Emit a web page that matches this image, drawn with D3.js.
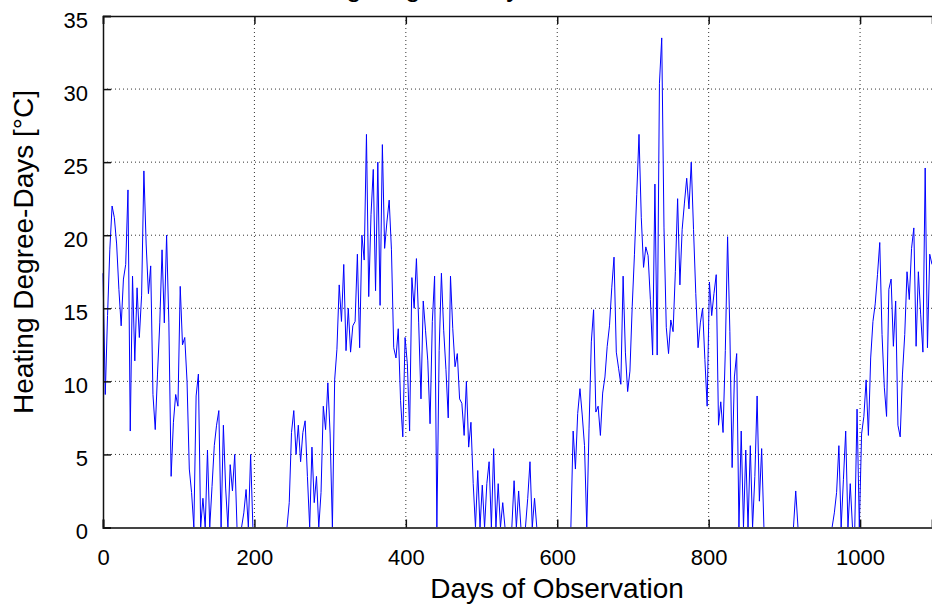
<!DOCTYPE html>
<html>
<head>
<meta charset="utf-8">
<script src="https://cdn.jsdelivr.net/npm/d3@7"></script>
<style>
  body { margin: 0; background: #fff; }
  text { font-family: "Liberation Sans", Arial, sans-serif; }
</style>
</head>
<body>
<div class="canvas"></div>
<script>
// sampling interval of the series (days)
const dayStep = 3;

// heating degree-days, one value every 3 days (day 0 .. 1095)
const hddValues = [
  17.4, 9.1, 14.5, 19.0, 22.0, 21.2, 19.4, 16.3, 13.8, 17.0,
  18.0, 23.1, 6.6, 17.2, 11.4, 16.4, 13.0, 15.9, 24.4, 19.4,
  16.0, 17.9, 9.1, 6.7, 10.5, 14.0, 19.0, 14.0, 20.0, 14.0,
  3.5, 7.2, 9.1, 8.3, 16.5, 12.5, 13.0, 10.0, 4.0, 2.4,
  0, 9.0, 10.5, 0, 2.0, 0, 5.3, 0, 2.8, 5.6,
  7.0, 8.0, 0, 7.0, 2.7, 0, 4.3, 2.5, 5.0, 0,
  0, 0, 1.0, 2.6, 0, 5.0, 0, 0, 0, 0,
  0, 0, 0, 0, 0, 0, 0, 0, 0, 0,
  0, 0, 1.7, 6.5, 8.0, 5.0, 7.0, 4.5, 6.5, 7.3,
  3.5, 0, 5.5, 1.7, 3.5, 0, 2.4, 8.3, 6.7, 9.9,
  6.4, 0, 10.1, 12.2, 16.6, 14.1, 18.0, 12.1, 15.0, 12.0,
  13.8, 14.1, 18.7, 12.3, 20.0, 18.3, 26.9, 15.8, 21.4, 24.5,
  16.2, 25.0, 15.2, 26.2, 19.1, 20.9, 22.4, 19.0, 12.3, 11.6,
  13.6, 8.7, 6.2, 13.0, 11.2, 6.6, 17.1, 15.0, 18.4, 14.0,
  8.8, 15.5, 13.5, 11.4, 7.1, 14.1, 17.2, 0, 12.1, 17.4,
  13.5, 10.8, 7.5, 17.2, 13.6, 11.0, 11.9, 8.8, 8.5, 6.3,
  10.0, 5.5, 7.2, 3.0, 0, 3.9, 0, 2.9, 0, 3.0,
  4.5, 0, 5.4, 0, 3.0, 0, 1.7, 0, 0, 0,
  0, 3.2, 0, 2.5, 0, 0, 0, 2.0, 4.5, 0,
  2.0, 0, 0, 0, 0, 0, 0, 0, 0, 0,
  0, 0, 0, 0, 0, 0, 0, 6.6, 4.0, 7.8,
  9.5, 7.7, 5.6, 0, 6.8, 12.7, 14.9, 7.9, 8.3, 6.3,
  9.2, 10.3, 12.4, 13.8, 16.4, 18.5, 12.0, 10.9, 9.8, 17.2,
  12.0, 9.3, 10.7, 15.1, 18.7, 22.8, 26.9, 21.2, 17.8, 19.2,
  18.6, 15.6, 11.8, 23.5, 11.8, 30.4, 33.5, 20.5, 13.7, 11.9,
  14.2, 13.4, 17.5, 22.5, 16.6, 20.4, 22.2, 23.9, 21.8, 25.0,
  20.4, 16.0, 12.3, 14.0, 15.0, 11.5, 8.3, 16.8, 14.5, 16.0,
  17.3, 7.0, 8.6, 6.5, 12.1, 19.9, 13.4, 4.1, 10.3, 11.9,
  0, 6.6, 0, 5.3, 0, 5.6, 0, 3.5, 9.0, 1.8,
  5.4, 0, 0, 0, 0, 0, 0, 0, 0, 0,
  0, 0, 0, 0, 0, 2.5, 0, 0, 0, 0,
  0, 0, 0, 0, 0, 0, 0, 0, 0, 0,
  0, 0, 1.0, 2.4, 5.6, 0, 3.3, 6.6, 0, 3.0,
  0, 0, 8.1, 0, 6.4, 7.6, 10.1, 6.3, 11.6, 14.1,
  15.3, 17.3, 19.5, 13.2, 9.6, 7.6, 16.3, 17.0, 12.4, 15.5,
  7.0, 6.2, 10.5, 13.2, 17.5, 15.6, 19.1, 20.5, 12.4, 17.5,
  14.6, 12.0, 24.6, 12.3, 18.7, 18.0
];

const xDomain = [0, 1095];
const yDomain = [0, 35];
const xTicks = [0, 200, 400, 600, 800, 1000];
const yTicks = [0, 5, 10, 15, 20, 25, 30, 35];

const titleText = "Heating Degree-Days";
const xLabel = "Days of Observation";
const yLabel = "Heating Degree-Days [°C]";

const w = 932;
const h = 605;

// create margins and dimensions
const margin = { top: 16, left: 103, bottom: 78 };
const graphWidth = 829;
const graphHeight = h - margin.top - margin.bottom + 0.5;

const svg = d3
  .select(".canvas")
  .append("svg")
  .attr("width", w)
  .attr("height", h);

svg.append("rect").attr("width", w).attr("height", h).attr("fill", "#fff");

// scales
const x = d3.scaleLinear().domain(xDomain).range([0, graphWidth]);
const y = d3.scaleLinear().domain(yDomain).range([graphHeight, 0]);

const graph = svg
  .append("g")
  .attr("transform", `translate(${margin.left}, ${margin.top})`);

// dotted grid
graph
  .append("g")
  .selectAll("line")
  .data(xTicks.filter(d => d > 0))
  .enter()
  .append("line")
  .attr("x1", d => x(d))
  .attr("x2", d => x(d))
  .attr("y1", 0)
  .attr("y2", graphHeight)
  .attr("stroke", "#333")
  .attr("stroke-width", 1)
  .attr("stroke-dasharray", "1,3");

graph
  .append("g")
  .selectAll("line")
  .data(yTicks.filter(d => d > 0 && d < 35))
  .enter()
  .append("line")
  .attr("x1", 0)
  .attr("x2", graphWidth)
  .attr("y1", d => y(d))
  .attr("y2", d => y(d))
  .attr("stroke", "#333")
  .attr("stroke-width", 1)
  .attr("stroke-dasharray", "1,3");

// the series
const line = d3
  .line()
  .x((d, i) => x(i * dayStep))
  .y(d => y(d));

graph
  .append("path")
  .datum(hddValues)
  .attr("fill", "none")
  .attr("stroke", "#0000ff")
  .attr("stroke-width", 1)
  .attr("d", line);

// axes with inward ticks
const xAxis = d3
  .axisBottom(x)
  .tickValues(xTicks)
  .tickFormat(d3.format("d"))
  .tickSize(-8)
  .tickPadding(22);
const xTopAxis = d3.axisTop(x).tickValues(xTicks).tickSize(-8).tickFormat("");
const yAxis = d3.axisLeft(y).tickValues(yTicks).tickSize(-8).tickPadding(15);

const xAxisGroup = graph
  .append("g")
  .attr("transform", `translate(0, ${graphHeight})`)
  .call(xAxis);
const xTopGroup = graph.append("g").call(xTopAxis);
const yAxisGroup = graph.append("g").call(yAxis);

xAxisGroup.select(".domain").attr("stroke", "#444").attr("stroke-width", 2);
xTopGroup.select(".domain").attr("stroke", "#111").attr("stroke-width", 1.5);
yAxisGroup.select(".domain").attr("stroke", "#111").attr("stroke-width", 1.5);

[xAxisGroup, xTopGroup, yAxisGroup].forEach(g =>
  g.selectAll(".tick line").attr("stroke", "#111").attr("stroke-width", 1.5)
);

xAxisGroup
  .selectAll(".tick text")
  .attr("font-size", 22)
  .attr("fill", "#000");
yAxisGroup
  .selectAll(".tick text")
  .attr("font-size", 22)
  .attr("dy", "0.5em")
  .attr("fill", "#000");

// labels
svg
  .append("text")
  .attr("x", 557)
  .attr("y", 598)
  .attr("text-anchor", "middle")
  .attr("font-size", 28)
  .text(xLabel);

svg
  .append("text")
  .attr("transform", "translate(33, 252) rotate(-90)")
  .attr("text-anchor", "middle")
  .attr("font-size", 28)
  .text(yLabel);

// title, mostly cut off by the top edge (only descenders show)
svg
  .append("text")
  .attr("x", 265)
  .attr("y", -4)
  .attr("font-size", 28)
  .text(titleText);
</script>
</body>
</html>
